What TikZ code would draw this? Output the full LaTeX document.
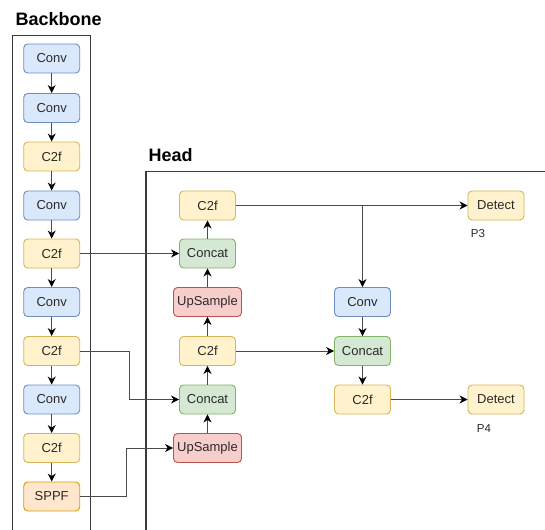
\documentclass[tikz,border=0pt]{standalone}
\usepackage{fontspec}
\setmainfont{Liberation Sans}
\usetikzlibrary{arrows.meta}
\definecolor{bluef}{HTML}{DAE8FC}\definecolor{bluel}{HTML}{6C8EBF}
\definecolor{yelf}{HTML}{FFF2CC}\definecolor{yell}{HTML}{D6B656}
\definecolor{grnf}{HTML}{D5E8D4}\definecolor{grnl}{HTML}{82B366}
\definecolor{redf}{HTML}{F8CECC}\definecolor{redl}{HTML}{B85450}
\definecolor{orgf}{HTML}{FFE6CC}\definecolor{orgl}{HTML}{D79B00}
\definecolor{txt}{HTML}{2A2A2A}
\definecolor{lin}{HTML}{4A4A4A}
\definecolor{frm}{HTML}{3A3A3A}
\begin{document}
\begin{tikzpicture}[x=1pt,y=-1pt,
  box/.style={draw, rounded corners=4pt, line width=0.9pt, minimum width=56pt,
    minimum height=29pt, inner sep=0pt, text=txt, font=\fontsize{13}{15}\selectfont},
  convb/.style={box, fill=bluef, draw=bluel},
  c2fb/.style={box, fill=yelf, draw=yell},
  catb/.style={box, fill=grnf, draw=grnl},
  upb/.style={box, fill=redf, draw=redl, minimum width=68pt},
  sppfb/.style={box, fill=orgf, draw=orgl},
  arr/.style={draw=lin, line width=0.9pt, -{Stealth[length=8pt,width=8pt,inset=2.5pt,color=black]}},
  frame/.style={draw=frm, line width=1.3pt},
  ttl/.style={anchor=west, font=\fontsize{18}{20}\selectfont\bfseries, text=black},
  lbl/.style={font=\fontsize{11.5}{12}\selectfont, text=txt}]
\useasboundingbox (0,0) rectangle (545,529);
% frames
\draw[frame] (12.5,530) -- (12.5,35.5) -- (90.5,35.5) -- (90.5,530);
\draw[frame] (146,530) -- (146,171.5) -- (546,171.5);
\node[ttl] (tb) at (12,19.5) {Backbone};
\node[ttl] (th) at (145,155.5) {Head};
% backbone
\node[convb] (b1) at (51.7,58.5) {Conv};
\node[convb] (b2) at (51.7,108) {Conv};
\node[c2fb]  (b3) at (51.7,156.5) {C2f};
\node[convb] (b4) at (51.7,205.5) {Conv};
\node[c2fb]  (b5) at (51.7,253.5) {C2f};
\node[convb] (b6) at (51.7,302) {Conv};
\node[c2fb]  (b7) at (51.7,351) {C2f};
\node[convb] (b8) at (51.7,399.5) {Conv};
\node[c2fb]  (b9) at (51.7,448) {C2f};
\node[sppfb] (b10) at (51.7,496.5) {SPPF};
\foreach \a/\b in {b1/b2,b2/b3,b3/b4,b4/b5,b5/b6,b6/b7,b7/b8,b8/b9,b9/b10}
  \draw[arr] (\a) -- (\b);
% head left column
\node[c2fb] (h1) at (207.5,205.5) {C2f};
\node[catb] (h2) at (207.5,253.5) {Concat};
\node[upb]  (h3) at (207.5,302) {UpSample};
\node[c2fb] (h4) at (207.5,351) {C2f};
\node[catb] (h5) at (207.5,399.5) {Concat};
\node[upb]  (h6) at (207.5,448) {UpSample};
\foreach \a/\b in {h6/h5,h5/h4,h4/h3,h3/h2,h2/h1}
  \draw[arr] (\a) -- (\b);
% right column
\node[convb] (r1) at (362.5,302) {Conv};
\node[catb]  (r2) at (362.5,351) {Concat};
\node[c2fb]  (r3) at (362.5,399.5) {C2f};
\node[c2fb]  (d1) at (496,205.5) {Detect};
\node[c2fb]  (d2) at (496,399.5) {Detect};
\node[lbl] (p3) at (478,234) {P3};
\node[lbl] (p4) at (484,429) {P4};
% connectors
\draw[arr] (b5) -- (h2);
\coordinate (k1) at (129.3,351);
\draw[arr] (b7.east) -- (k1) |- (h5.west);
\coordinate (k2) at (126,496.5);
\draw[arr] (b10.east) -- (k2) |- (h6.west);
\draw[arr] (h1) -- (d1);
\coordinate (k3) at (362.5,205.5);
\draw[arr] (k3) -- (r1);
\draw[arr] (r1) -- (r2);
\draw[arr] (r2) -- (r3);
\draw[arr] (h4) -- (r2);
\draw[arr] (r3) -- (d2);
\end{tikzpicture}
\end{document}
